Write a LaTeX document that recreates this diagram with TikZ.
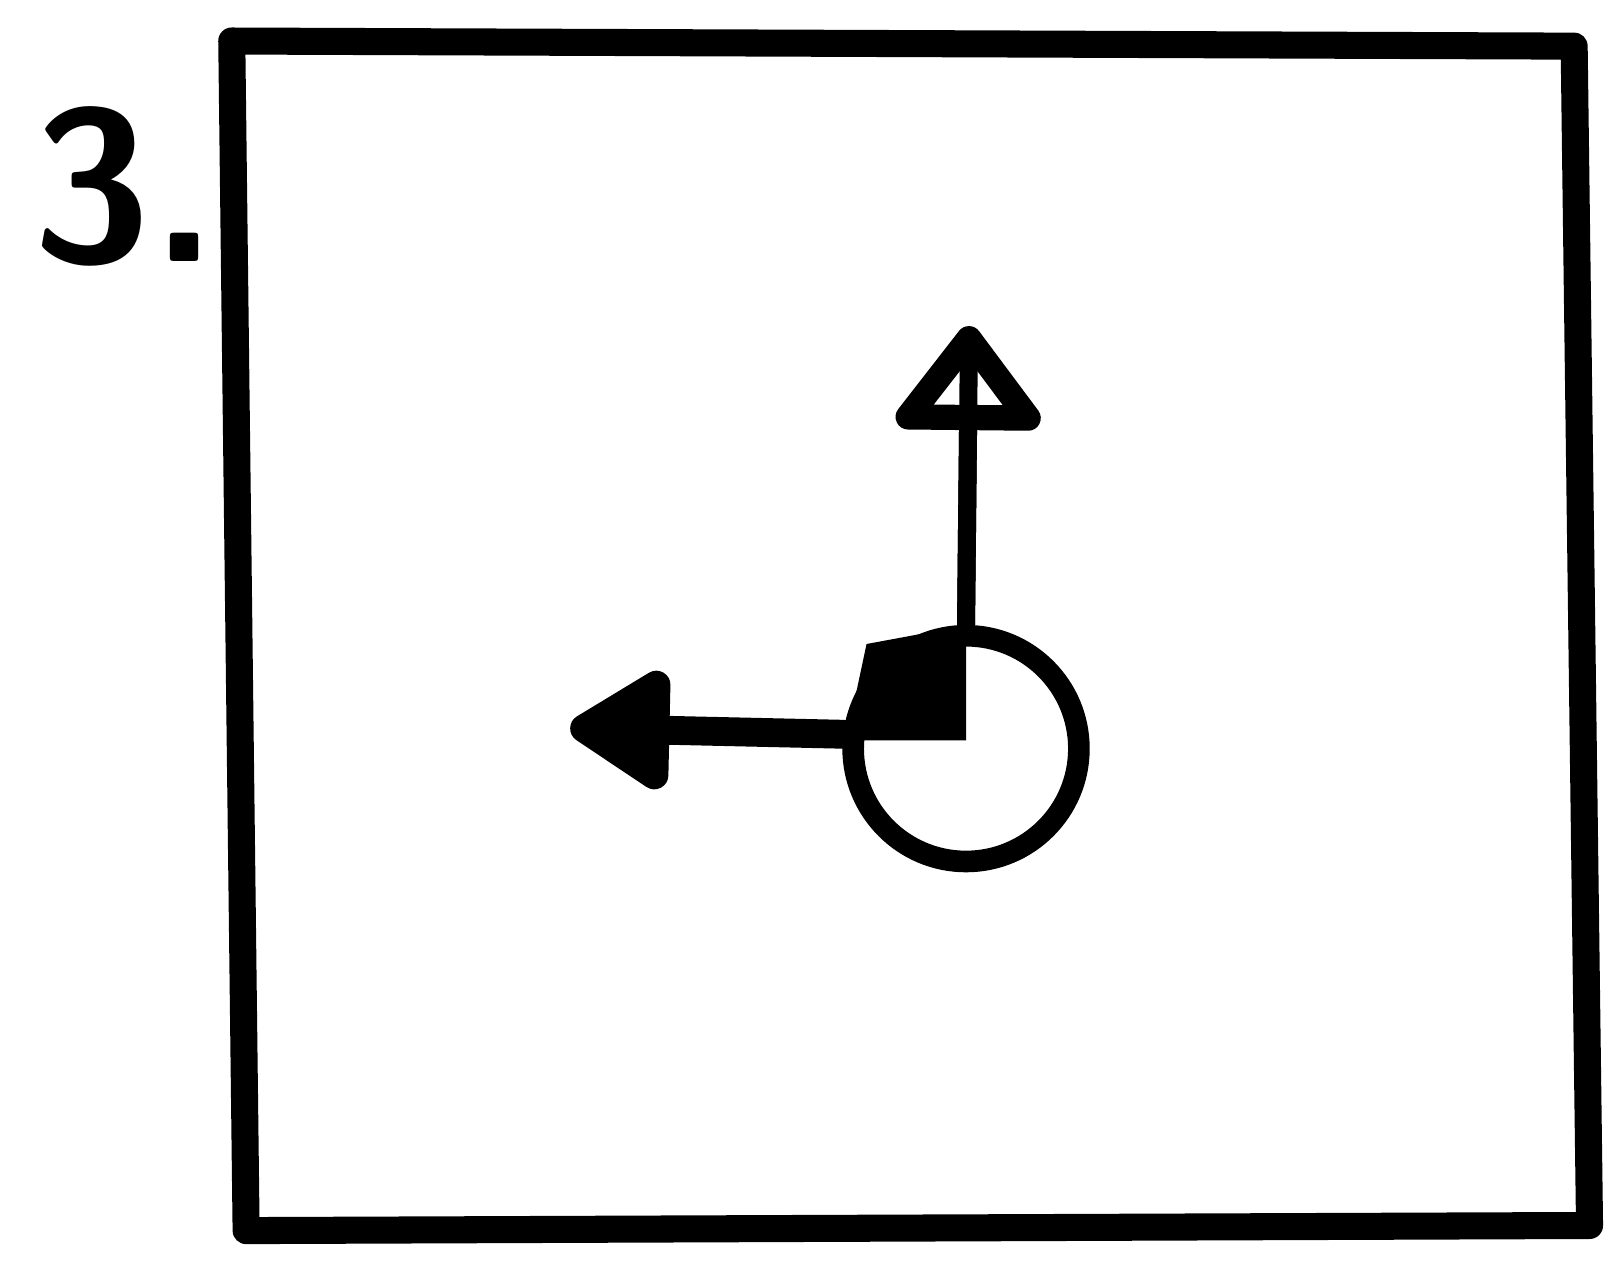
\documentclass[tikz,border=0pt]{standalone}
\usetikzlibrary{arrows.meta}

\begin{document}
\begin{tikzpicture}[x=0.01cm, y=-0.01cm, line join=round, line cap=round,
    every node/.style={inner sep=0pt},
    frame/.style={line width=7.5pt},
    joint/.style={circle, draw, line width=6pt, minimum size=2.2cm}]
      \useasboundingbox (0, 0) rectangle (1568, 1252);
      \node[font=\fontsize{60}{60}\selectfont\sffamily\bfseries] (num) at (122, 182) {3.};
      \draw[frame] (226, 40) -- (1535, 45) -- (1550, 1195) -- (240, 1200) -- cycle;
      \fill (845, 628) -- (942, 610) -- (942, 722) -- (825, 722) -- cycle;
      \node[joint] (hub) at (942, 730) {};
      \coordinate (start) at (822, 716);
      \coordinate (left) at (556, 710);
      \coordinate (up) at (945, 318);
      \draw[line width=8pt, -{Triangle[round, length=1.1cm, width=1.3cm]}] (start) -- (left);
      \draw[line width=5pt, shorten >=0.3cm] (hub.north) -- (up);
      \draw[line width=5pt, -{Triangle[open, round, length=1.1cm, width=1.6cm, line width=7pt]}] (hub.north) -- (up);
    \end{tikzpicture}
\end{document}
